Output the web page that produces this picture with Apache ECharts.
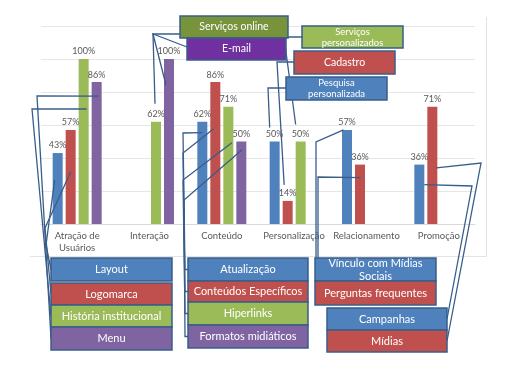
<!DOCTYPE html>
<html>
<head>
<meta charset="utf-8">
<script src="https://cdn.jsdelivr.net/npm/echarts@6/dist/echarts.min.js"></script>
<style>
html,body{margin:0;padding:0;background:#fff;}
#c{width:511px;height:367px;}
</style>
</head>
<body>
<div id="c"></div>
<script>
// ---- data ----
const categories = ['Atração de\nUsuários', 'Interação', 'Conteúdo', 'Personalização', 'Relacionamento', 'Promoção'];
const blueValues   = [43, '-', 62, 50, 57, 36];
const redValues    = [57, '-', 86, 14, 36, 71];
const greenValues  = [100, 62, 71, 50, '-', '-'];
const purpleValues = [86, 100, 50, '-', '-', '-'];
const yTicks = [0, 20, 40, 60, 80, 100, 120];

// ---- annotation boxes (layout) ----
const C = {blue:'#4F81BD', red:'#C0504D', green:'#9BBB59', purple:'#8064A2', olive:'#77933C', violet:'#7030A0'};
const boxes = {
  online:   {x:180, y:16, w:108, h:22, fill:C.olive,  text:'Serviços online', fs:10.5},
  email:    {x:187, y:38, w:99,  h:22, fill:C.violet, text:'E-mail', fs:10.5},
  servpers: {x:302, y:26, w:101, h:22, fill:C.green,  text:'Serviços\npersonalizados', fs:9.5, lh:11},
  cadastro: {x:294, y:51, w:101, h:23, fill:C.red,    text:'Cadastro', fs:10.5},
  pesquisa: {x:286, y:77, w:101, h:23, fill:C.blue,   text:'Pesquisa\npersonalizada', fs:9.5, lh:11},
  layout:   {x:51,  y:258, w:121, h:23, fill:C.blue,   text:'Layout', fs:11},
  logo:     {x:51,  y:283, w:121, h:22, fill:C.red,    text:'Logomarca', fs:11},
  historia: {x:51,  y:305, w:121, h:22, fill:C.green,  text:'História institucional', fs:11},
  menu:     {x:51,  y:327, w:121, h:23, fill:C.purple, text:'Menu', fs:11},
  atual:    {x:188, y:258, w:120, h:23, fill:C.blue,   text:'Atualização', fs:11},
  conteud:  {x:188, y:281, w:120, h:21, fill:C.red,    text:'Conteúdos Específicos', fs:11},
  hiper:    {x:188, y:302, w:120, h:23, fill:C.green,  text:'Hiperlinks', fs:11},
  formatos: {x:188, y:325, w:120, h:23, fill:C.purple, text:'Formatos midiáticos', fs:11},
  vinculo:  {x:315, y:258, w:121, h:23, fill:C.blue,   text:'Vínculo com Mídias\nSociais', fs:11, lh:13},
  pergunt:  {x:315, y:281, w:121, h:24, fill:C.red,    text:'Perguntas frequentes', fs:11},
  campan:   {x:327, y:308, w:120, h:22, fill:C.blue,   text:'Campanhas', fs:11},
  midias:   {x:327, y:330, w:120, h:22, fill:C.red,    text:'Mídias', fs:11}
};

// leader lines: series, category, anchor fraction across bar, offset below bar top, elbow points, target box
const leaders = [
  {s:0,c:0,fx:0.2,dy:27, via:[[46,245]], box:'layout', side:'l'},
  {s:1,c:0,fx:0.5,dy:42, via:[[45,228]], box:'logo', side:'l'},
  {s:2,c:0,fx:0.8,dy:50, via:[[32,109]], box:'historia', side:'l'},
  {s:3,c:0,fx:0.7,dy:14, via:[[37,96]], box:'menu', side:'l'},
  {s:2,c:1,fx:0.4,dy:-18, via:[[153,34]], box:'online', side:'l', ey:34},
  {s:3,c:1,fx:0.2,dy:26, via:[[153,34]], box:'email', side:'l', ey:47},
  {s:0,c:2,fx:0.5,dy:11, via:[[183,133],[185,269.5]], box:'atual', side:'l'},
  {s:1,c:2,fx:0.3,dy:47, via:[[183,153],[185,291.5]], box:'conteud', side:'l'},
  {s:2,c:2,fx:0.85,dy:36, via:[[183,180],[185,313.5]], box:'hiper', side:'l'},
  {s:3,c:2,fx:0.6,dy:8, via:[[184,200],[185,336.5]], box:'formatos', side:'l'},
  {s:0,c:3,fx:0.0,dy:-14, via:[[268,88]], box:'pesquisa', side:'l', ey:88},
  {s:1,c:3,fx:0.15,dy:-16, via:[[277,62]], box:'cadastro', side:'l', ey:62},
  {s:2,c:3,fx:0.0,dy:-17, via:[[284,37]], box:'servpers', side:'l', ey:37},
  {s:0,c:4,fx:0.15,dy:0, via:[[316,142],[316,269.5]], box:'vinculo', side:'l'},
  {s:1,c:4,fx:0.55,dy:13, via:[[318,177],[318,293]], box:'pergunt', side:'l'},
  {s:0,c:5,fx:1.0,dy:20, via:[[472,186]], box:'campan', side:'r'},
  {s:1,c:5,fx:0.9,dy:61, via:[[481,163]], box:'midias', side:'r'}
];

const FONT = 'Lato, "Open Sans", "Noto Sans", sans-serif';
const chart = echarts.init(document.getElementById('c'), null, {renderer:'canvas'});

function barSeries(name, data, color){
  return {
    name, type:'bar', data, barWidth:10, barGap:'30%',
    itemStyle:{color},
    label:{show:true, position:'top', distance:3, formatter:'{c}%', color:'#595959', fontSize:9, fontFamily:FONT}
  };
}

chart.setOption({
  animation:false,
  backgroundColor:'#fff',
  grid:{left:41, right:36, top:26, bottom:143},
  xAxis:{
    type:'category', data:categories,
    axisLine:{lineStyle:{color:'#d9d9d9'}},
    axisTick:{show:false},
    axisLabel:{color:'#595959', fontSize:9.5, fontFamily:FONT, margin:6, lineHeight:12, interval:0}
  },
  yAxis:{
    type:'value', min:yTicks[0], max:yTicks[yTicks.length-1], interval:yTicks[1]-yTicks[0],
    axisLabel:{show:false}, axisLine:{show:false}, axisTick:{show:false},
    splitLine:{lineStyle:{color:'#e6e6e6'}}
  },
  series:[
    barSeries('Azul', blueValues, C.blue),
    barSeries('Vermelho', redValues, C.red),
    barSeries('Verde', greenValues, C.green),
    barSeries('Roxo', purpleValues, C.purple)
  ]
});

function barRect(s, c){
  let lay = null;
  try { lay = chart.getModel().getSeriesByIndex(s).getData().getItemLayout(c); } catch(e) { lay = null; }
  if (lay && isFinite(lay.x)) {
    const x = Math.min(lay.x, lay.x + lay.width), y = Math.min(lay.y, lay.y + lay.height);
    return {x, y, w:Math.abs(lay.width)};
  }
  const vals = [blueValues, redValues, greenValues, purpleValues][s];
  const p = chart.convertToPixel({gridIndex:0}, [c, vals[c]]);
  const off = [-24.5, -11.5, 1.5, 14.5][s];
  return {x:p[0] + off, y:p[1], w:10};
}

const graphics = [];
// chart frame: only right and bottom edges are visible in the reference
graphics.push({type:'polyline', shape:{points:[[486.5,17],[486.5,256.5],[30,256.5]]}, style:{fill:null, stroke:'#e3e3e3', lineWidth:1}, z:0, silent:true});

leaders.forEach(L => {
  const r = barRect(L.s, L.c);
  const a = [r.x + L.fx * r.w, r.y + L.dy];
  const b = boxes[L.box];
  const ey = (L.ey !== undefined) ? L.ey : b.y + b.h/2;
  const e = [L.side === 'l' ? b.x : b.x + b.w, ey];
  graphics.push({type:'polyline', shape:{points:[a].concat(L.via, [e])}, style:{stroke:'#385D8A', lineWidth:1.3, fill:null}, z:50, silent:true});
});

Object.keys(boxes).forEach(k => {
  const b = boxes[k];
  graphics.push({type:'rect', shape:{x:b.x, y:b.y, width:b.w, height:b.h}, style:{fill:b.fill, stroke:'#385D8A', lineWidth:1.5}, z:60, silent:true});
  graphics.push({type:'text', x:b.x + b.w/2, y:b.y + b.h/2, style:{text:b.text, fill:'#ffffff', fontSize:b.fs, fontFamily:FONT, lineHeight:b.lh || b.fs+2, align:'center', verticalAlign:'middle', textAlign:'center', textVerticalAlign:'middle'}, z:61, silent:true});
});

chart.setOption({graphic:{elements:graphics}});
</script>
</body>
</html>
